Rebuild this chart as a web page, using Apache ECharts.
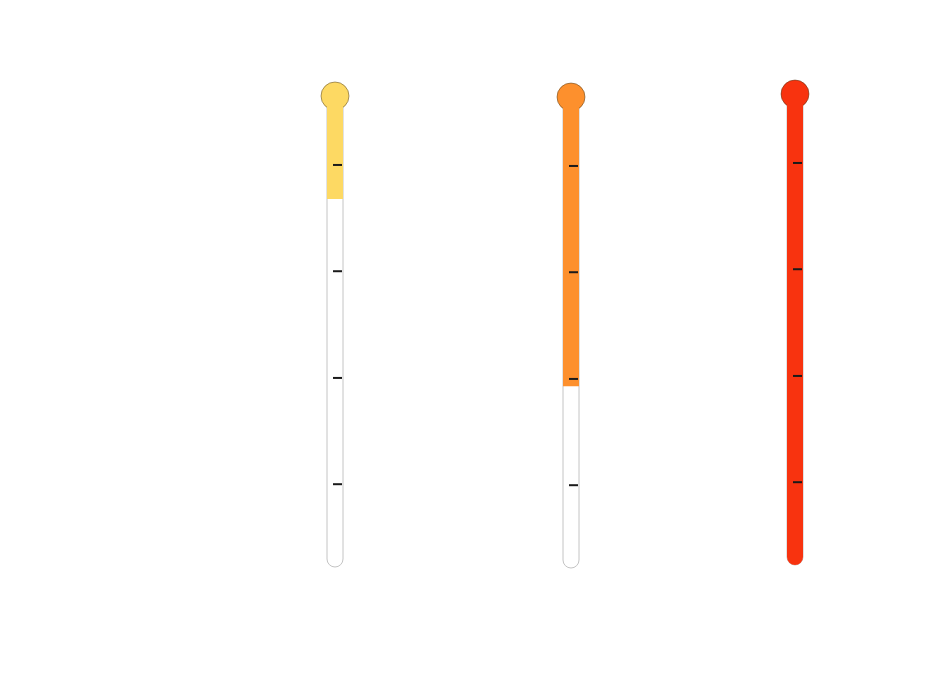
<!DOCTYPE html>
<html>
<head>
<meta charset="utf-8">
<script src="https://cdn.jsdelivr.net/npm/echarts@6/dist/echarts.min.js"></script>
<style>html,body{margin:0;padding:0;background:#fff;}#chart{width:928px;height:675px;}</style>
</head>
<body>
<div id="chart"></div>
<script>
// Data
const categories = ['Low', 'Medium', 'High'];
const fillPercent = [20, 60.5, 100];          // share of tube filled, from top
const tickValues = [12.6, 35.7, 58.9, 82.0];  // tick marks along the tube (percent from top)

// Styles
const colors = ['#FDD963', '#FD902D', '#F8330F'];
const nudgeX = [0, 6, 0];
const nudgeY = [0, 1, -2];

const chart = echarts.init(document.getElementById('chart'));
const HW = 8, BULB_R = 14, BULB_OFF = 11;

chart.setOption({
  backgroundColor: '#ffffff',
  animation: false,
  grid: { left: 220, right: 18, top: 107, bottom: 108 },
  xAxis: { type: 'category', data: categories, show: false },
  yAxis: { type: 'value', min: 0, max: 100, inverse: true, show: false },
  series: [{
    type: 'custom',
    data: categories.map((c, i) => [i, fillPercent[i]]),
    renderItem(params, api) {
      const i = api.value(0);
      const top = api.coord([i, 0]);
      const bot = api.coord([i, 100]);
      const lvl = api.coord([i, api.value(1)]);
      const cx = top[0] + nudgeX[i];
      const dy = nudgeY[i];
      const y0 = top[1] + dy, y1 = bot[1] + dy, yf = lvl[1] + dy;
      const full = api.value(1) >= 100;
      const children = [];
      children.push({
        type: 'rect',
        shape: { x: cx - HW, y: y0, width: 2 * HW, height: y1 - y0, r: [0, 0, HW, HW] },
        style: { fill: '#ffffff', stroke: '#c4c4c4', lineWidth: 1 }
      });
      children.push({
        type: 'circle',
        shape: { cx: cx, cy: y0 - BULB_OFF, r: BULB_R },
        style: { fill: colors[i], stroke: 'rgba(70,50,20,0.6)', lineWidth: 0.8 }
      });
      children.push({
        type: 'rect',
        shape: { x: cx - HW, y: y0 - 2, width: 2 * HW, height: yf - y0 + 2, r: full ? [0, 0, HW, HW] : 0 },
        style: { fill: colors[i] }
      });
      tickValues.forEach(t => {
        const ty = api.coord([i, t])[1] + dy;
        children.push({
          type: 'line',
          shape: { x1: cx - 2, y1: ty, x2: cx + 7, y2: ty },
          style: { stroke: '#1a1a1a', lineWidth: 2 }
        });
      });
      return { type: 'group', children };
    }
  }]
});
</script>
</body>
</html>
